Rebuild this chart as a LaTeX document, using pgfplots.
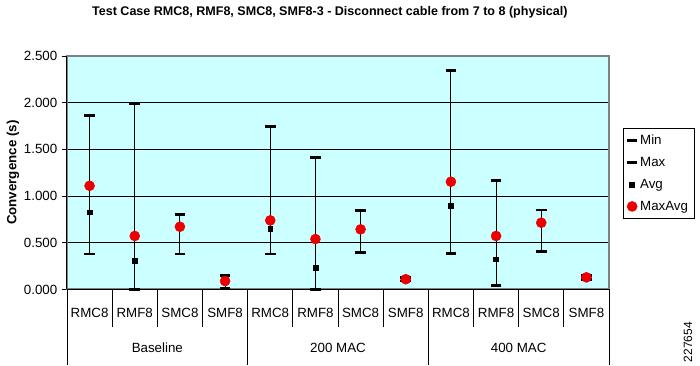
\documentclass[border=0pt,10pt]{standalone}
\usepackage{pgfplots}
\pgfplotsset{compat=1.18}
\usepackage{pgfplotstable}
\usepackage{fontspec}
\setmainfont{Liberation Sans}
\definecolor{plotbg}{RGB}{204,255,255}
\definecolor{bordergray}{RGB}{128,128,128}
\definecolor{dotred}{RGB}{235,0,0}

\pgfplotstableread{
x min max avg maxavg
0 0.380 1.865 0.826 1.110
1 0.000 1.990 0.310 0.573
2 0.380 0.805 0.670 0.672
3 0.015 0.150 0.090 0.090
4 0.380 1.747 0.648 0.740
5 0.000 1.415 0.230 0.540
6 0.394 0.848 0.640 0.644
7 0.090 0.130 0.110 0.110
8 0.387 2.347 0.894 1.154
9 0.045 1.169 0.323 0.573
10 0.409 0.851 0.710 0.715
11 0.110 0.150 0.130 0.130
}\data

\begin{document}
\begin{tikzpicture}
\useasboundingbox (-50.25pt,-57.375pt) rectangle (474.75pt,217.125pt);
\begin{axis}[
  at={(0pt,0pt)}, anchor=south west,
  scale only axis, width=406.5pt, height=175.125pt,
  clip=false,
  xmin=-0.5, xmax=11.5, ymin=0, ymax=2.5,
  axis background/.style={fill=plotbg},
  axis line style={bordergray, line width=1.5pt},
  xtick={0,...,11},
  xticklabels={RMC8,RMF8,SMC8,SMF8,RMC8,RMF8,SMC8,SMF8,RMC8,RMF8,SMC8,SMF8},
  xtick style={draw=none},
  xticklabel style={anchor=base, yshift=-17.5pt},
  ytick={0,0.5,1,1.5,2,2.5},
  ytick pos=left,
  tick align=outside,
  major tick length=3.75pt,
  ytick style={black, line width=0.6pt},
  yticklabel style={/pgf/number format/.cd, fixed, fixed zerofill, precision=3, assume math mode=true},
  ymajorgrids,
  grid style={black, line width=0.6pt},
  title={Test Case RMC8, RMF8, SMC8, SMF8-3 - Disconnect cable from 7 to 8 (physical)},
  every axis title/.style={at={(axis description cs:0.485,1.188)}, anchor=center, font=\fontsize{9.4}{11}\selectfont\bfseries},
  ylabel={Convergence (s)},
  every axis y label/.style={at={(axis description cs:-0.0996,0.5)}, rotate=90, anchor=center, font=\bfseries},
  legend style={at={(1.025,0.692)}, anchor=north west, draw=black, fill=white,
    font=\normalsize, row sep=4pt, inner sep=3pt,
    /tikz/every even column/.append style={column sep=0pt}},
  legend cell align=left,
]
\addplot[draw=none, mark=none, forget plot,
  error bars/.cd, y dir=plus, y explicit, error mark=none,
  error bar style={draw=black, solid, line width=0.75pt}]
  table[x=x, y=min, y error expr=\thisrow{max}-\thisrow{min}] {\data};
\addplot[only marks, line width=2pt, mark=-, mark size=4pt, mark options={black, line width=2pt}]
  table[x=x, y=min] {\data};
\addlegendentry{Min}
\addplot[only marks, line width=2pt, mark=-, mark size=4pt, mark options={black, line width=2pt}]
  table[x=x, y=max] {\data};
\addlegendentry{Max}
\addplot[only marks, mark=square*, mark size=1.8pt, mark options={black, fill=black}]
  table[x=x, y=avg] {\data};
\addlegendentry{Avg}
\addplot[only marks, mark=*, mark size=3.75pt, mark options={draw=dotred, fill=dotred}]
  table[x=x, y=maxavg] {\data};
\addlegendentry{MaxAvg}

\draw[black, line width=0.75pt] (rel axis cs:0,0) -- (rel axis cs:1,0);
\draw[black, line width=0.75pt] (rel axis cs:0,0) -- (rel axis cs:0,1);
\pgfplotsinvokeforeach{0.5,1.5,2.5,4.5,5.5,6.5,8.5,9.5,10.5}{
  \draw[black, line width=0.6pt] (axis cs:#1,0) -- ([yshift=-28pt]axis cs:#1,0);
}
\pgfplotsinvokeforeach{-0.5,3.5,7.5,11.5}{
  \draw[black, line width=0.6pt] (axis cs:#1,0) -- ([yshift=-56.5pt]axis cs:#1,0);
}
\node at ([yshift=-43.9pt]axis cs:1.5,0) {Baseline};
\node at ([yshift=-43.9pt]axis cs:5.5,0) {200 MAC};
\node at ([yshift=-43.9pt]axis cs:9.5,0) {400 MAC};
\end{axis}
\node[rotate=90, font=\small] at (465.75pt,-39.4pt) {227654};
\end{tikzpicture}
\end{document}
